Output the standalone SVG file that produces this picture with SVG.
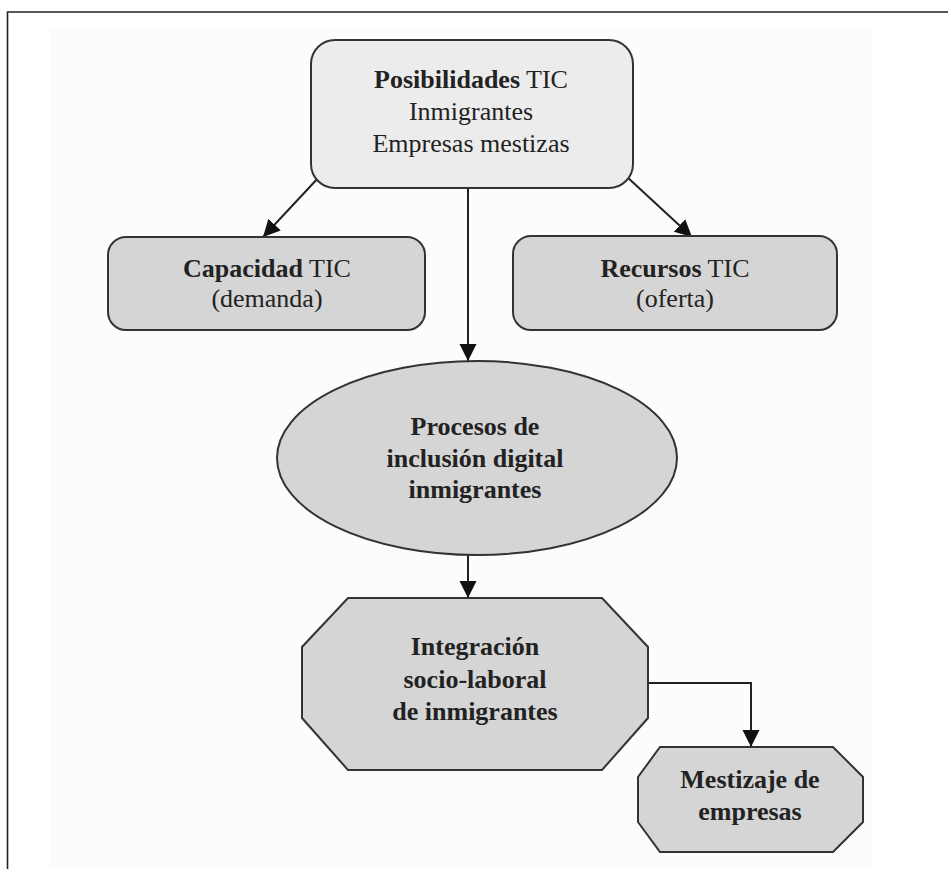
<svg xmlns="http://www.w3.org/2000/svg" width="948" height="869" viewBox="0 0 948 869">
<style>
text{font-family:"Liberation Serif","Times New Roman",serif;font-size:26px;fill:#222;text-anchor:middle}
.b{font-weight:bold}
.node{stroke:#333;stroke-width:2}
.light{fill:#ececec}
.mid{fill:#d5d5d5}
.conn{stroke:#222;stroke-width:2;fill:none}
</style>
<defs>
<marker id="ah" markerUnits="userSpaceOnUse" markerWidth="18" markerHeight="18" refX="17" refY="9" orient="auto">
<path d="M0,0.5 L17,9 L0,17.5 Z" fill="#111"/>
</marker>
</defs>
<rect x="0" y="0" width="948" height="869" fill="#fff"/>
<rect x="50" y="27" width="823" height="842" fill="#fcfcfc"/>
<path d="M7.5,869 V12 H948" stroke="#222" stroke-width="1.6" fill="none"/>

<g id="connectors">
<line class="conn" x1="320" y1="176" x2="263" y2="237" marker-end="url(#ah)"/>
<line class="conn" x1="626" y1="176" x2="692" y2="237" marker-end="url(#ah)"/>
<line class="conn" x1="468" y1="188" x2="468" y2="361" marker-end="url(#ah)"/>
<line class="conn" x1="468" y1="555" x2="468" y2="598" marker-end="url(#ah)"/>
<polyline class="conn" points="648,683 751,683 751,747" marker-end="url(#ah)"/>
</g>

<g id="posibilidades">
<rect class="node light" x="311" y="40" width="322" height="148" rx="24"/>
<text x="471" y="88"><tspan class="b">Posibilidades</tspan> TIC</text>
<text x="471" y="120">Inmigrantes</text>
<text x="471" y="152">Empresas mestizas</text>
</g>

<g id="capacidad">
<rect class="node mid" x="108" y="237" width="317" height="93" rx="18"/>
<text x="267" y="277"><tspan class="b">Capacidad</tspan> TIC</text>
<text x="267" y="307">(demanda)</text>
</g>

<g id="recursos">
<rect class="node mid" x="513" y="236" width="324" height="94" rx="18"/>
<text x="675" y="277"><tspan class="b">Recursos</tspan> TIC</text>
<text x="675" y="307">(oferta)</text>
</g>

<g id="procesos">
<ellipse class="node mid" cx="477" cy="458" rx="200" ry="97"/>
<text class="b" x="475" y="435">Procesos de</text>
<text class="b" x="475" y="467">inclusión digital</text>
<text class="b" x="475" y="498">inmigrantes</text>
</g>

<g id="integracion">
<polygon class="node mid" points="348,598 602,598 648,647 648,718 602,770 348,770 302,718 302,647"/>
<text class="b" x="475" y="655">Integración</text>
<text class="b" x="475" y="688">socio-laboral</text>
<text class="b" x="475" y="720">de inmigrantes</text>
</g>

<g id="mestizaje">
<polygon class="node mid" points="660,747 833,747 863,777 863,822 833,852 660,852 638,822 638,777"/>
<text class="b" x="750" y="788">Mestizaje de</text>
<text class="b" x="750" y="820">empresas</text>
</g>
</svg>
